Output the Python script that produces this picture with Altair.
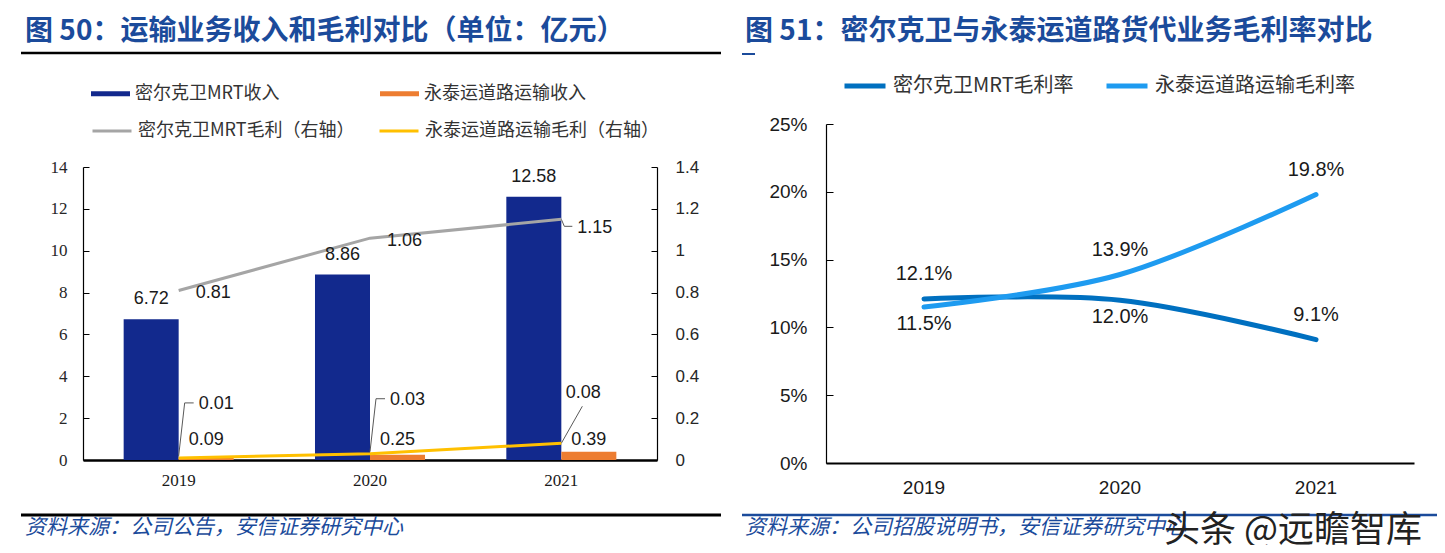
import altair as alt
import pandas as pd

# ---------------- data ----------------
years = ["2019", "2020", "2021"]
rev_names = ["密尔克卫MRT收入", "永泰运道路运输收入"]
gp_names = ["密尔克卫MRT毛利（右轴）", "永泰运道路运输毛利（右轴）"]
mg_names = ["密尔克卫MRT毛利率", "永泰运道路运输毛利率"]
mrt_revenue = [6.72, 8.86, 12.58]
yt_revenue = [0.09, 0.25, 0.39]
mrt_profit = [0.81, 1.06, 1.15]
yt_profit = [0.01, 0.03, 0.08]
mrt_margin = [12.1, 12.0, 9.1]
yt_margin = [11.5, 13.9, 19.8]
left_ticks = [0, 2, 4, 6, 8, 10, 12, 14]
right_ticks = [0, 0.2, 0.4, 0.6, 0.8, 1.0, 1.2, 1.4]
pct_ticks = [0, 5, 10, 15, 20, 25]

title_left = "图 50：运输业务收入和毛利对比（单位：亿元）"
title_right = "图 51：密尔克卫与永泰运道路货代业务毛利率对比"
source_left = "资料来源：公司公告，安信证券研究中心"
source_right = "资料来源：公司招股说明书，安信证券研究中心"
watermark = "头条 @远瞻智库"


def long(names, a, b):
    rows = []
    for s, vals in zip(names, (a, b)):
        for y, v in zip(years, vals):
            rows.append({"year": y, "series": s, "value": v})
    return pd.DataFrame(rows)


rev_df = long(rev_names, mrt_revenue, yt_revenue)
gp_df = long(gp_names, mrt_profit, yt_profit)
mg_df = long(mg_names, mrt_margin, yt_margin)

# ---------------- style ----------------
W, H = 1429, 537
SANS = "Liberation Sans"
SERIF = "Liberation Serif"
CJK = "Noto Sans CJK SC"
NAVY = "#12298d"
ORANGE = "#ed7d31"
GRAY = "#a5a5a5"
YELLOW = "#ffc000"
DARKBLUE = "#0070c0"
LIGHTBLUE = "#1e9bf0"
TITLEBLUE = "#1b4b9b"
LEADER = "#595959"
TXT = "#1a1a1a"


def LX():
    return alt.Scale(type="band", domain=years, range=[75, 649],
                     paddingInner=0.425, paddingOuter=0.2125)


def LY():
    return alt.Scale(domain=[0, 14], range=[452, 159], nice=False)


def RY():
    return alt.Scale(domain=[0, 1.4], range=[452, 159], nice=False)


def PX():
    return alt.Scale(type="band", domain=years, range=[818, 1406],
                     paddingInner=0, paddingOuter=0)


def PY():
    return alt.Scale(domain=[0, 25], range=[455, 116], nice=False)


def xl(bp=0.5):
    return alt.X("year:N", scale=LX(), axis=None, bandPosition=bp, title=None)


def xp():
    return alt.X("year:N", scale=PX(), axis=None, bandPosition=0.5, title=None)


layers = []

# ---------------- left panel ----------------
bars = alt.Chart(rev_df).mark_bar().encode(
    x=alt.X("year:N", scale=LX(), title=None,
            axis=alt.Axis(orient="bottom", offset=-85, ticks=False, tickSize=0,
                          domainColor="#000000", domainWidth=2.5, labelFont=SERIF,
                          labelFontSize=17, labelColor=TXT, labelPadding=12,
                          labelAngle=0, grid=False)),
    xOffset=alt.XOffset("series:N", scale=alt.Scale(domain=rev_names, paddingInner=0, paddingOuter=0)),
    y=alt.Y("value:Q", scale=LY(), title=None,
            axis=alt.Axis(orient="left", offset=-75, values=left_ticks, ticks=False,
                          tickSize=0, domainColor="#000000", domainWidth=1.2,
                          labelFont=SERIF, labelFontSize=17, labelColor="#262626",
                          labelPadding=16, grid=False)),
    fill=alt.Fill("series:N", scale=alt.Scale(domain=rev_names, range=[NAVY, ORANGE]),
                  legend=alt.Legend(orient="none", legendX=83, legendY=66,
                                    direction="horizontal", title=None,
                                    symbolType="M-1,-0.13H1V0.13H-1Z", symbolSize=1521,
                                    symbolStrokeWidth=0, labelFont=CJK, labelFontSize=18,
                                    labelColor="#333333", labelOffset=5,
                                    columnPadding=100, labelLimit=500, padding=0)),
)
layers.append(bars)

# inward ticks for left axis
layers.append(alt.Chart(rev_df).mark_point(opacity=0, size=1).encode(
    y=alt.Y("value:Q", scale=LY(), title=None,
            axis=alt.Axis(orient="left", offset=-81, values=left_ticks, ticks=True,
                          tickSize=6, tickColor="#000000", tickWidth=1, labels=False,
                          domain=False, grid=False))))

# profit lines (right axis)
gp_lines = alt.Chart(gp_df).mark_line(strokeWidth=3).encode(
    x=xl(),
    y=alt.Y("value:Q", scale=RY(), title=None,
            axis=alt.Axis(orient="right", offset=-780, values=right_ticks, ticks=False,
                          tickSize=0, format="~g", domainColor="#000000", domainWidth=1.2,
                          labelFont=SANS, labelFontSize=17, labelColor="#262626",
                          labelPadding=18, grid=False)),
    stroke=alt.Stroke("series:N", scale=alt.Scale(domain=gp_names, range=[GRAY, YELLOW]),
                      legend=alt.Legend(orient="none", legendX=83, legendY=102,
                                        direction="horizontal", title=None,
                                        symbolType="stroke", symbolSize=1521,
                                        symbolStrokeWidth=3, labelFont=CJK,
                                        labelFontSize=18, labelColor="#333333",
                                        labelOffset=5, columnPadding=18,
                                        labelLimit=500, padding=0)),
)

# inward ticks for right axis
layers.append(alt.Chart(gp_df).mark_point(opacity=0, size=1).encode(
    y=alt.Y("value:Q", scale=RY(), title=None,
            axis=alt.Axis(orient="right", offset=-786, values=right_ticks, ticks=True,
                          tickSize=6, tickColor="#000000", tickWidth=1, labels=False,
                          domain=False, grid=False))))

# leader lines
f_y1920 = f"datum.series == '{gp_names[1]}' && datum.year != '2021'"
f_y21 = f"datum.series == '{gp_names[1]}' && datum.year == '2021'"
f_m21 = f"datum.series == '{gp_names[0]}' && datum.year == '2021'"
f_m1920 = f"datum.series == '{gp_names[0]}' && datum.year != '2021'"


def leader(flt, xo1, yo1, xo2, yo2):
    return alt.Chart(gp_df).transform_filter(flt).mark_rule(
        color=LEADER, strokeWidth=1, xOffset=xo1, yOffset=yo1, x2Offset=xo2, y2Offset=yo2
    ).encode(
        x=xl(), x2=alt.X2("year:N", bandPosition=0.5),
        y=alt.Y("value:Q", scale=RY(), axis=None, title=None), y2=alt.Y2("value:Q"),
    )


layers.append(leader(f_y1920, 0, -2, 6, -55))
layers.append(leader(f_y1920, 6, -55, 15, -55))
layers.append(leader(f_y21, 0, 0, 21, -37))
layers.append(leader(f_m21, 0, 0, 3, 7))
layers.append(leader(f_m21, 3, 7, 11, 7))

layers.append(gp_lines)

# bar value labels
layers.append(alt.Chart(rev_df).transform_filter(f"datum.series == '{rev_names[0]}'").mark_text(
    font=SANS, fontSize=18, color=TXT, dy=-20).encode(
    x=xl(0.25), y=alt.Y("value:Q", scale=LY(), axis=None, title=None),
    text=alt.Text("value:Q", format=".2f")))
layers.append(alt.Chart(rev_df).transform_filter(f"datum.series == '{rev_names[1]}'").mark_text(
    font=SANS, fontSize=18, color=TXT, dy=-20).encode(
    x=xl(0.75), y=alt.Y(datum=0, scale=LY(), axis=None, title=None),
    text=alt.Text("value:Q", format=".2f")))

# profit labels
layers.append(alt.Chart(gp_df).transform_filter(f_m1920).mark_text(
    font=SANS, fontSize=18, color=TXT, align="left", dx=17, dy=3).encode(
    x=xl(), y=alt.Y("value:Q", scale=RY(), axis=None, title=None),
    text=alt.Text("value:Q", format=".2f")))
layers.append(alt.Chart(gp_df).transform_filter(f_m21).mark_text(
    font=SANS, fontSize=18, color=TXT, align="left", dx=16, dy=9).encode(
    x=xl(), y=alt.Y("value:Q", scale=RY(), axis=None, title=None),
    text=alt.Text("value:Q", format=".2f")))
layers.append(alt.Chart(gp_df).transform_filter(f_y1920).mark_text(
    font=SANS, fontSize=18, color=TXT, align="left", dx=20, dy=-54).encode(
    x=xl(), y=alt.Y("value:Q", scale=RY(), axis=None, title=None),
    text=alt.Text("value:Q", format=".2f")))
layers.append(alt.Chart(gp_df).transform_filter(f_y21).mark_text(
    font=SANS, fontSize=18, color=TXT, align="center", dx=22, dy=-50).encode(
    x=xl(), y=alt.Y("value:Q", scale=RY(), axis=None, title=None),
    text=alt.Text("value:Q", format=".2f")))

# ---------------- right panel ----------------
layers.append(alt.Chart(mg_df).mark_line(strokeWidth=5, interpolate="cardinal", strokeCap="round").encode(
    x=alt.X("year:N", scale=PX(), bandPosition=0.5, title=None,
            axis=alt.Axis(orient="bottom", offset=-82, ticks=False, tickSize=0,
                          domainColor="#000000", domainWidth=2, labelFont=SANS,
                          labelFontSize=19, labelColor=TXT, labelPadding=15,
                          labelAngle=0, grid=False)),
    y=alt.Y("value:Q", scale=PY(), title=None,
            axis=alt.Axis(orient="left", offset=-818, values=pct_ticks, ticks=False,
                          tickSize=0, labelExpr="datum.value + '%'",
                          domainColor="#000000", domainWidth=1.2, labelFont=SANS,
                          labelFontSize=19, labelColor=TXT, labelPadding=19, grid=False)),
    stroke=alt.Stroke("series:N", scale=alt.Scale(domain=mg_names, range=[DARKBLUE, LIGHTBLUE]),
                      legend=alt.Legend(orient="none", legendX=834, legendY=55,
                                        direction="horizontal", title=None,
                                        symbolType="stroke", symbolSize=1681,
                                        symbolStrokeWidth=5, labelFont=CJK,
                                        labelFontSize=20, labelColor="#333333",
                                        labelOffset=5, columnPadding=22,
                                        labelLimit=500, padding=0)),
))

layers.append(alt.Chart(mg_df).mark_point(opacity=0, size=1).encode(
    y=alt.Y("value:Q", scale=PY(), title=None,
            axis=alt.Axis(orient="left", offset=-825, values=pct_ticks, ticks=True,
                          tickSize=7, tickColor="#000000", tickWidth=1, labels=False,
                          domain=False, grid=False))))

above = (f"(datum.series == '{mg_names[0]}' && datum.year != '2020') || "
         f"(datum.series == '{mg_names[1]}' && datum.year != '2019')")
for flt, dy in ((above, -25), (f"!({above})", 17)):
    layers.append(alt.Chart(mg_df).transform_filter(flt).transform_calculate(
        lab="format(datum.value, '.1f') + '%'").mark_text(
        font=SANS, fontSize=20, color=TXT, dy=dy).encode(
        x=xp(), y=alt.Y("value:Q", scale=PY(), axis=None, title=None), text="lab:N"))


# ---------------- decorations ----------------
def txt(s, x, y, **kw):
    return alt.Chart(pd.DataFrame({"t": [s]})).mark_text(
        align="left", baseline="middle", **kw).encode(
        x=alt.value(x), y=alt.value(y), text="t:N")


def hrule(x1, x2, y, color, w):
    return alt.Chart(pd.DataFrame({"a": [0]})).mark_rule(color=color, strokeWidth=w).encode(
        x=alt.value(x1), x2=alt.value(x2), y=alt.value(y))


layers.append(txt(title_left, 17, 24, font=CJK, fontSize=28, fontWeight="bold", color=TITLEBLUE))
layers.append(txt(title_right, 737, 24, font=CJK, fontSize=28, fontWeight="bold", color=TITLEBLUE))
layers.append(hrule(13, 713, 45, "#000000", 2.5))
layers.append(hrule(734, 747, 46, TITLEBLUE, 2))
layers.append(hrule(13, 713, 507, "#000000", 3))
layers.append(hrule(734, 1429, 507, TITLEBLUE, 2.5))
layers.append(txt(source_left, 17, 520, font=CJK, fontSize=21, fontStyle="italic", color=TITLEBLUE))
layers.append(txt(source_right, 737, 520, font=CJK, fontSize=21, fontStyle="italic", color=TITLEBLUE))
layers.append(txt(watermark, 1156, 523, font=CJK, fontSize=36, color="#222222"))

chart = alt.layer(*layers).resolve_scale(
    x="independent", y="independent", xOffset="independent",
    fill="independent", stroke="independent",
).properties(
    width=W, height=H, padding=0, autosize=alt.AutoSizeParams(type="none"),
).configure_view(stroke=None).configure_axis(grid=False)

chart.save("out.html", embed_options={"renderer": "svg", "actions": False})
